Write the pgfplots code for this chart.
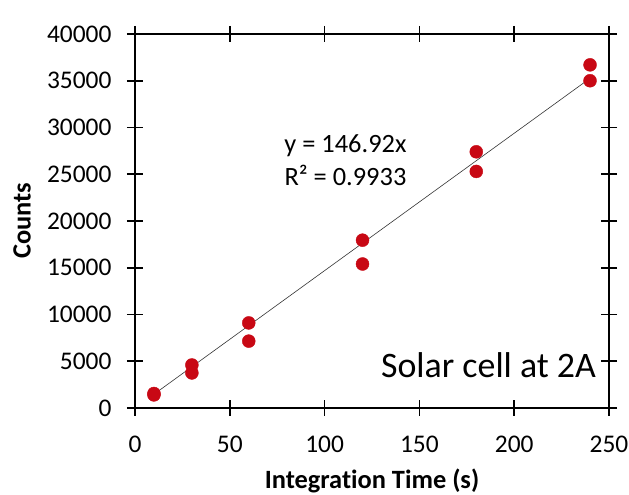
\documentclass[border=0pt]{standalone}
\usepackage{fontspec}
\setmainfont{Carlito}[Ligatures=NoCommon]
\usepackage{pgfplots}
\pgfplotsset{compat=1.18}
\definecolor{ptred}{RGB}{200,8,20}
\begin{document}
\begin{tikzpicture}[x=1bp,y=1bp]
\begin{axis}[name=ax, at={(0,0)}, anchor=south west,
  scale only axis, width=474bp, height=374bp,
  xmin=0, xmax=250, ymin=0, ymax=40000,
  xtick={0,50,...,250}, ytick={0,5000,...,40000},
  tick align=center, major tick length=16bp,
  axis line style={line width=1.6bp},
  every tick/.style={line width=1.6bp, black},
  /pgf/number format/assume math mode=true,
  /pgf/number format/fixed,
  /pgf/number format/1000 sep={},
  scaled y ticks=false,
  ticklabel style={font=\fontsize{25.5}{25.5}\selectfont},
  yticklabel style={xshift=-12bp},
  xticklabel style={yshift=-17bp},
  xlabel={\textbf{Integration Time (s)}},
  ylabel={\textbf{Counts}},
  label style={font=\fontsize{26.5}{26.5}\selectfont},
  xlabel style={at={(axis description cs:0.5,-0.195)}, anchor=center},
  ylabel style={at={(axis description cs:-0.238,0.5)}, anchor=center},
  clip=false]
\addplot[only marks, mark=*, mark size=6.5bp, mark options={fill=ptred, draw=ptred}] coordinates {
(10,1400) (10,1550) (30,3750) (30,4600) (60,7150) (60,9100)
(120,15400) (120,17950) (180,25300) (180,27400) (240,35000) (240,36700)};
\addplot[line width=0.6bp, black!80, no marks] coordinates {(10,1469.2) (240,35260.8)};
\node[font=\fontsize{26.5}{33}\selectfont, align=center] at (axis cs:111,26470) {y = 146.92x\\R² = 0.9933};
\node[font=\fontsize{36}{36}\selectfont, anchor=base east] at (axis cs:245,3209) {Solar cell at 2A};
\end{axis}
\pgfresetboundingbox
\path[use as bounding box] ([shift={(-135bp,-87bp)}]ax.south west) rectangle ([shift={(20bp,34bp)}]ax.north east);
\end{tikzpicture}
\end{document}
